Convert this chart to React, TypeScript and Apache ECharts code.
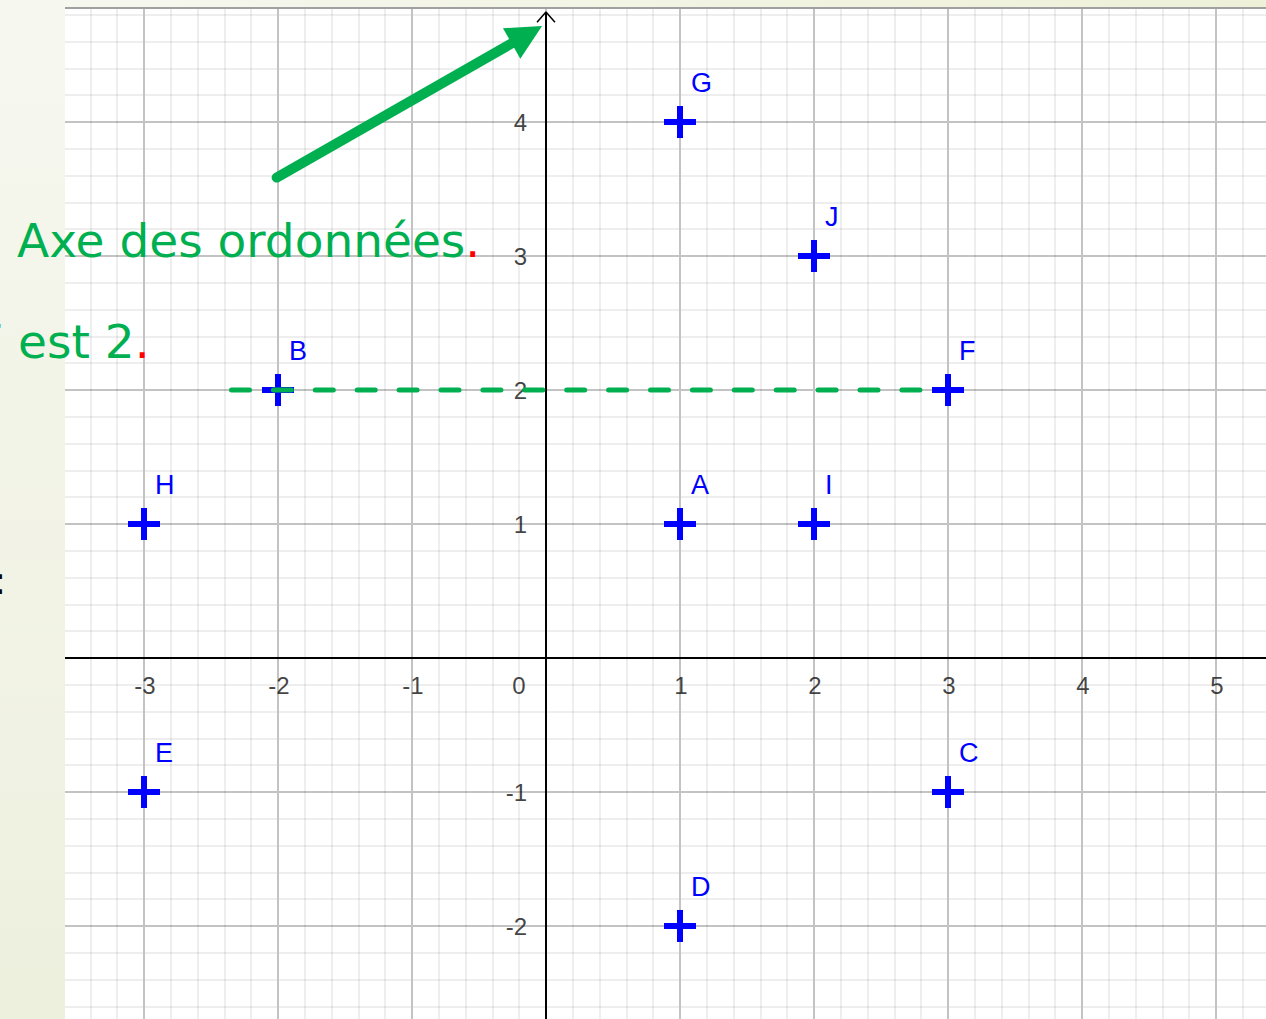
import React, { useEffect, useRef } from 'react';
import * as echarts from 'echarts';

// ---- data ----
const pointNames = ['A', 'B', 'C', 'D', 'E', 'F', 'G', 'H', 'I', 'J'];
const pointX = [1, -2, 3, 1, -3, 3, 1, -3, 2, 2];
const pointY = [1, 2, -1, -2, -1, 2, 4, 1, 1, 3];

const xRange = [-4, 6];
const yRange = [-3, 5];
const xLabelValues = [-3, -2, -1, 0, 1, 2, 3, 4, 5];
const yLabelValues = [-2, -1, 1, 2, 3, 4];

const dashedLine = [[-2.347, 2], [2.94, 2]];
const arrowTail = [-2.01, 3.585];
const arrowHead = [-0.143, 4.651];
const yAxisLine = [[0, -3], [0, 4.82]];
const yAxisArrow = [[-0.067, 4.745], [0, 4.82], [0.067, 4.745]];

const title1 = 'Axe des ordonnées';
const title2 = 'F est 2';

const GREEN = '#00b050';
const PLUS = 'path://M13,0h6v13h13v6h-13v13h-6v-13h-13v-6h13z';

export default function App() {
  const ref = useRef<HTMLDivElement>(null);

  useEffect(() => {
    if (!ref.current) return;
    const chart = echarts.init(ref.current, null, { renderer: 'svg' });

    const tickFont = { fontSize: 24, color: '#111', fontFamily: 'Liberation Sans, Arial, sans-serif' };
    const major = { show: true, lineStyle: { color: '#c3c3c3', width: 2 } };
    const minor = { show: true, lineStyle: { color: 'rgba(0,0,0,0.065)', width: 2 } };

    const baseAxis = {
      type: 'value',
      interval: 1,
      axisTick: { show: false },
      axisLabel: { show: false },
      minorTick: { show: false, splitNumber: 5 },
      splitLine: major,
      minorSplitLine: minor,
    };

    const option: any = {
      animation: false,
      backgroundColor: '#ffffff',
      grid: { left: 10, top: -12, width: 1340, height: 1072, outerBoundsMode: 'none', containLabel: false },
      xAxis: {
        ...baseAxis,
        min: xRange[0],
        max: xRange[1],
        axisLine: { show: true, onZero: true, lineStyle: { color: '#000', width: 2 } },
      },
      yAxis: {
        ...baseAxis,
        min: yRange[0],
        max: yRange[1],
        axisLine: { show: false },
      },
      series: [
        {
          type: 'line',
          data: yAxisLine,
          symbol: 'none',
          silent: true,
          lineStyle: { color: '#000', width: 2 },
          z: 3,
        },
        {
          type: 'line',
          data: yAxisArrow,
          symbol: 'none',
          silent: true,
          lineStyle: { color: '#000', width: 1.5 },
          z: 3,
        },
        // x tick labels
        {
          type: 'scatter',
          silent: true,
          symbolSize: 1,
          itemStyle: { color: 'rgba(0,0,0,0)' },
          data: xLabelValues.map((v) => ({
            name: String(v),
            value: [v, 0],
            label: { offset: [v === 0 ? -27 : 1, 27.7] },
          })),
          label: {
            show: true,
            formatter: '{t|{b}}',
            position: 'inside',
            align: 'center',
            verticalAlign: 'middle',
            ...tickFont,
            rich: { t: { ...tickFont } },
          },
          z: 4,
        },
        // y tick labels
        {
          type: 'scatter',
          silent: true,
          symbolSize: 1,
          itemStyle: { color: 'rgba(0,0,0,0)' },
          data: yLabelValues.map((v) => ({ name: String(v), value: [0, v] })),
          label: {
            show: true,
            formatter: '{t|{b}}',
            position: 'inside',
            align: 'right',
            verticalAlign: 'middle',
            offset: [-19, 0],
            ...tickFont,
            rich: { t: { ...tickFont, align: 'right' } },
          },
          z: 4,
        },
        {
          type: 'scatter',
          data: pointNames.map((n, i) => ({ name: n, value: [pointX[i], pointY[i]] })),
          symbol: PLUS,
          symbolSize: 32,
          itemStyle: { color: '#0000ff', opacity: 1 },
          label: {
            show: true,
            formatter: '{b}',
            position: [27, -23],
            align: 'left',
            verticalAlign: 'middle',
            color: '#0000ff',
            fontSize: 27,
            fontFamily: 'Liberation Sans, Arial, sans-serif',
          },
          z: 10,
        },
        {
          type: 'line',
          data: dashedLine,
          symbol: 'none',
          silent: true,
          lineStyle: { color: GREEN, width: 5, type: [18, 23.9], cap: 'round' },
          z: 12,
        },
        {
          type: 'lines',
          coordinateSystem: 'cartesian2d',
          data: [{ coords: [arrowTail, arrowHead] }],
          symbol: ['none', 'triangle'],
          symbolSize: [34, 35],
          silent: true,
          lineStyle: { color: GREEN, width: 10, opacity: 1, curveness: 0, cap: 'round' },
          z: 20,
        },
      ],
      graphic: [
        {
          type: 'rect',
          silent: true,
          z: 50,
          shape: { x: 0, y: 0, width: 65, height: 1019 },
          style: {
            fill: new echarts.graphic.LinearGradient(0, 0, 0, 1, [
              { offset: 0, color: '#f6f7ef' },
              { offset: 1, color: '#eef0de' },
            ]),
          },
        },
        {
          type: 'rect',
          silent: true,
          z: 50,
          shape: { x: 65, y: 0, width: 1201, height: 7 },
          style: {
            fill: new echarts.graphic.LinearGradient(0, 0, 1, 0, [
              { offset: 0, color: '#f6f7ef' },
              { offset: 1, color: '#eef1d8' },
            ]),
          },
        },
        {
          type: 'rect',
          silent: true,
          z: 51,
          shape: { x: 65, y: 7, width: 1201, height: 2 },
          style: { fill: '#a0a0a0' },
        },
        {
          type: 'text',
          silent: true,
          z: 60,
          x: 17,
          y: 240.7,
          style: {
            text: '{g|' + title1 + '}{r|.}',
            verticalAlign: 'middle',
            align: 'left',
            rich: {
              g: { fill: GREEN, fontSize: 47, fontFamily: 'DejaVu Sans' },
              r: { fill: '#ff0000', fontSize: 47, fontFamily: 'DejaVu Sans' },
            },
          },
        },
        {
          type: 'text',
          silent: true,
          z: 60,
          x: -24,
          y: 341.7,
          style: {
            text: '{g|' + title2 + '}{r|.}',
            verticalAlign: 'middle',
            align: 'left',
            rich: {
              g: { fill: GREEN, fontSize: 47, fontFamily: 'DejaVu Sans' },
              r: { fill: '#ff0000', fontSize: 47, fontFamily: 'DejaVu Sans' },
            },
          },
        },
        {
          type: 'text',
          silent: true,
          z: 60,
          x: -6.4,
          y: 581,
          style: {
            text: ':',
            verticalAlign: 'middle',
            align: 'left',
            fill: '#000',
            fontSize: 38,
            fontFamily: 'DejaVu Sans',
          },
        },
      ],
    };

    chart.setOption(option);
    return () => chart.dispose();
  }, []);

  return (
    <div
      ref={ref}
      style={{ position: 'fixed', left: 0, top: 0, width: 1266, height: 1019, background: '#ffffff' }}
    />
  );
}
